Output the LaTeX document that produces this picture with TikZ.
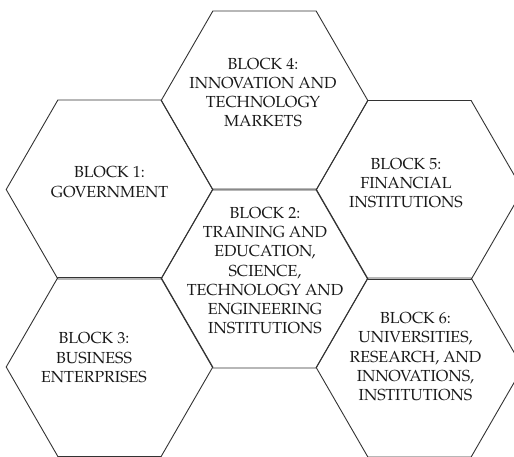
\documentclass[tikz,border=0pt]{standalone}
\usepackage{fontspec}
\setmainfont{TeX Gyre Pagella}
\usetikzlibrary{shapes.geometric}
\tikzset{
  hexa/.style={regular polygon, regular polygon sides=6, minimum size=206.6pt,
    inner sep=0pt, outer sep=0pt, draw=black!80, line width=0.9pt},
  blocktext/.style={align=center, inner sep=0pt, text=black!90,
    font=\fontsize{16}{19.3}\selectfont}
}
\begin{document}
\begin{tikzpicture}[x=1pt,y=-1pt]
\useasboundingbox (0,0) rectangle (514,457);
\clip (0,0) rectangle (514,457);
% honeycomb cells
\node[hexa] (h4) at (264.5,100.5) {};
\node[hexa] (h1) at (109.5,189.5) {};
\node[hexa] (h2) at (264.5,278.5) {};
\node[hexa] (h5) at (419.5,190) {};
\node[hexa] (h3) at (109.5,367) {};
\node[hexa] (h6) at (419.5,367.5) {};
% cell captions
\node[blocktext] (t4) at (263,92.5) {BLOCK 4:\\INNOVATION AND\\TECHNOLOGY\\MARKETS};
\node[blocktext] (t1) at (109.5,182) {BLOCK 1:\\GOVERNMENT};
\node[blocktext] (t5) at (406,183) {BLOCK 5:\\FINANCIAL\\INSTITUTIONS};
\node[blocktext] (t2) at (265,270.5) {BLOCK 2:\\TRAINING AND\\EDUCATION,\\SCIENCE,\\TECHNOLOGY AND\\ENGINEERING\\INSTITUTIONS};
\node[blocktext] (t3) at (94,357.5) {BLOCK 3:\\BUSINESS\\ENTERPRISES};
\node[blocktext] (t6) at (415.5,356.5) {BLOCK 6:\\UNIVERSITIES,\\RESEARCH, AND\\INNOVATIONS,\\INSTITUTIONS};
\end{tikzpicture}
\end{document}
